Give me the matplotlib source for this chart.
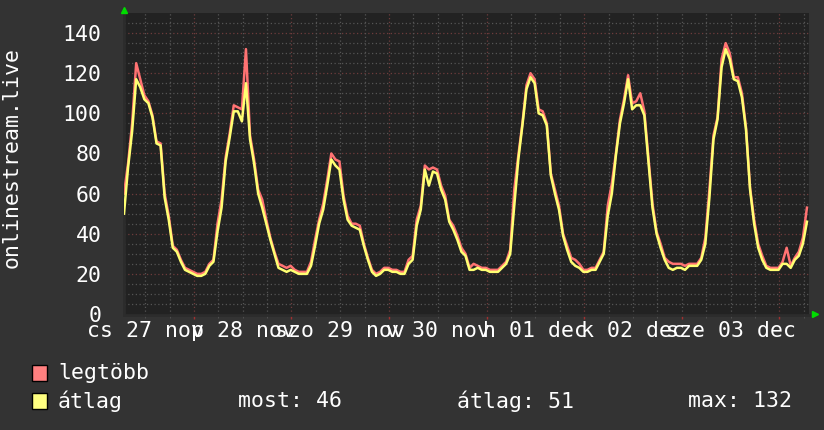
import numpy as np
import matplotlib
matplotlib.use('Agg')
import matplotlib.pyplot as plt
from matplotlib.patches import Rectangle

# hourly samples, starting ~06:50 on nov 27
legtobb = [60, 75, 95, 125, 117, 109, 106, 99, 86, 85, 60, 49, 34, 32, 27, 23, 22, 21, 20, 20,
           21, 25, 27, 45, 57, 78, 90, 104, 103, 102, 132, 89, 77, 62, 57, 47, 38, 31, 25, 24,
           23, 24, 22, 21, 21, 21, 26, 37, 47, 55, 67, 80, 77, 76, 59, 49, 45, 45, 44, 35,
           28, 22, 20, 21, 23, 23, 22, 22, 21, 21, 27, 29, 47, 54, 74, 72, 73, 72, 64, 59,
           47, 44, 39, 33, 30, 23, 25, 24, 23, 23, 22, 22, 22, 24, 26, 32, 62, 79, 95, 114,
           120, 117, 102, 101, 95, 70, 62, 54, 40, 34, 28, 27, 25, 22, 22, 23, 23, 27, 31, 54,
           65, 80, 97, 107, 119, 105, 106, 110, 101, 78, 55, 41, 35, 28, 26, 25, 25, 25, 24, 25,
           25, 25, 28, 38, 62, 89, 98, 127, 135, 130, 118, 118, 110, 93, 63, 47, 35, 29, 24, 23,
           23, 23, 26, 33, 24, 28, 31, 38, 53]
atlag = [50, 73, 91, 117, 113, 107, 105, 98, 85, 84, 58, 47, 33, 31, 26, 22, 21, 20, 19, 19,
         20, 24, 26, 41, 53, 76, 88, 101, 101, 96, 115, 87, 75, 60, 53, 45, 37, 30, 23, 22,
         21, 22, 21, 20, 20, 20, 24, 34, 45, 52, 64, 77, 74, 72, 57, 47, 44, 43, 42, 34,
         27, 21, 19, 20, 22, 22, 21, 21, 20, 20, 25, 27, 44, 52, 72, 64, 71, 70, 62, 57,
         46, 42, 37, 31, 29, 22, 22, 23, 22, 22, 21, 21, 21, 23, 25, 30, 54, 77, 94, 112,
         118, 115, 100, 99, 94, 69, 60, 52, 39, 32, 26, 24, 23, 21, 21, 22, 22, 26, 30, 49,
         60, 79, 95, 105, 117, 102, 104, 104, 99, 76, 53, 40, 33, 27, 23, 22, 23, 23, 22, 24,
         24, 24, 27, 35, 58, 87, 97, 123, 132, 127, 117, 116, 108, 92, 62, 45, 33, 27, 23, 22,
         22, 22, 25, 25, 23, 27, 29, 35, 46]
napok = ['cs 27 nov', 'p 28 nov', 'szo 29 nov', 'v 30 nov', 'h 01 dec', 'k 02 dec', 'sze 03 dec']
ejfel = 17.2  # first midnight, hours after start

hours = np.arange(len(atlag))

W, H = 824, 430
def fx(x): return x / W
def fy(y): return 1 - y / H

mono = 'DejaVu Sans Mono'
fs = 15.5

fig = plt.figure(figsize=(W / 100, H / 100), dpi=100, facecolor='#333333')
ax = fig.add_axes([fx(124), fy(315), fx(809) - fx(124), fy(13) - fy(315)])
ax.set_facecolor('#222222')
ax.set_xlim(0, 168.5)
ax.set_ylim(-0.5, 150)

# grid
for v in np.arange(5, 150, 5):
    c = '#6e3c3c' if v % 20 == 0 else '#555555'
    ax.axhline(v, color=c, lw=0.9, ls=(0, (1, 2)), zorder=1)
for t in np.arange(ejfel - 12, 168.5, 6):
    c = '#6e3c3c' if abs((t - ejfel) % 24) < 0.01 else '#555555'
    ax.axvline(t, color=c, lw=0.9, ls=(0, (1, 2)), zorder=1)

ax.plot(hours, legtobb, color='#ff7272', lw=1.8, zorder=3)
ax.plot(hours, atlag, color='#ffff72', lw=1.8, zorder=4)

for s in ax.spines.values():
    s.set_visible(False)
ax.spines['left'].set_visible(True)
ax.spines['left'].set_color('#2c2c2c')
ax.spines['left'].set_linewidth(2)
ax.spines['bottom'].set_visible(True)
ax.spines['bottom'].set_color('#2c2c2c')
ax.spines['bottom'].set_linewidth(2)
ax.set_xticks(np.arange(ejfel, 168.5, 24))
ax.set_xticklabels([])
ax.tick_params(axis='x', length=3, color='#a03030', width=1)
ax.set_xticks(np.arange(ejfel - 12, 168.5, 6), minor=True)
ax.tick_params(axis='x', which='minor', length=2, color='#555555')
ax.set_yticks(range(0, 141, 20))
ax.set_yticklabels([str(v) for v in range(0, 141, 20)], fontfamily=mono, fontsize=fs, color='white')
ax.tick_params(axis='y', length=0, pad=16)

for i, lab in enumerate(napok):
    ax.text(ejfel - 12 + 24 * i, -8.5, lab, ha='center', va='center', fontfamily=mono,
            fontsize=fs, color='white', transform=ax.transData, clip_on=False)

ax.plot([0], [151.5], marker='^', color='#00dd00', ms=5, clip_on=False, zorder=5)
ax.plot([170], [0], marker='>', color='#00dd00', ms=5, clip_on=False, zorder=5)

fig.text(fx(12), fy(158), 'onlinestream.live', rotation=90, ha='center', va='center',
         fontfamily=mono, fontsize=fs, color='white')

# legend
for y, c, lab in [(373, '#ff8080', 'legtöbb'), (401, '#ffff80', 'átlag')]:
    fig.patches.append(Rectangle((fx(32), fy(y + 8)), fx(15), 16 / H, transform=fig.transFigure,
                                 facecolor=c, edgecolor='black', lw=1))
    fig.text(fx(58), fy(y), lab, ha='left', va='center', fontfamily=mono, fontsize=fs, color='white')

fig.text(fx(238), fy(401), 'most: 46', ha='left', va='center', fontfamily=mono, fontsize=fs, color='white')
fig.text(fx(457), fy(401), 'átlag: 51', ha='left', va='center', fontfamily=mono, fontsize=fs, color='white')
fig.text(fx(688), fy(401), 'max: 132', ha='left', va='center', fontfamily=mono, fontsize=fs, color='white')

fig.savefig('out.png', dpi=100, facecolor=fig.get_facecolor())
